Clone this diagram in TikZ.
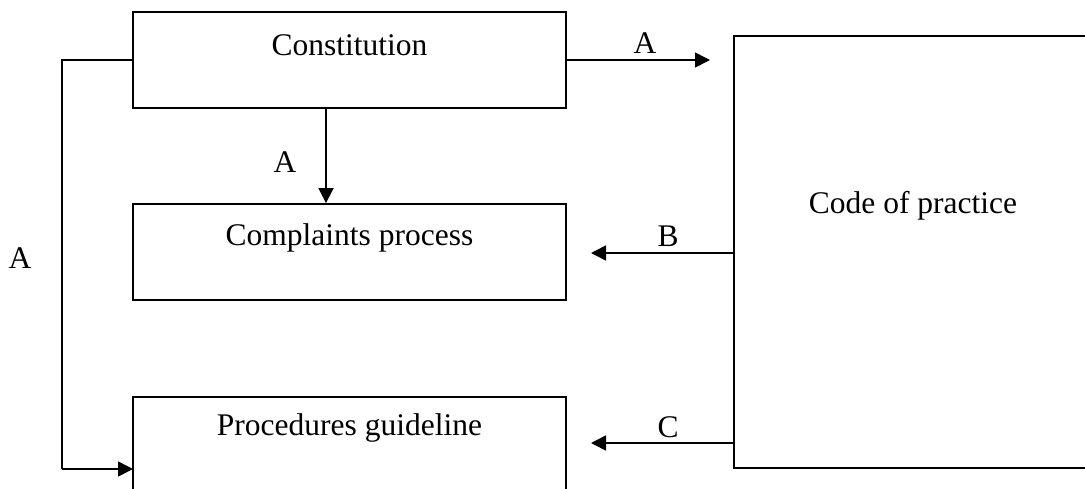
\documentclass[tikz,border=0pt]{standalone}
\usepackage{fontspec}
\setmainfont{Liberation Serif}
\usetikzlibrary{arrows.meta}
\begin{document}
\begin{tikzpicture}[x=1pt,y=-1pt,
  box/.style={draw=black,line width=1.8pt,inner sep=0pt},
  txt/.style={inner sep=0pt,font=\fontsize{31.5}{36}\selectfont},
  arr/.style={draw=black,line width=1.6pt,-{Triangle[length=15pt,width=15pt]}},
  conn/.style={draw=black,line width=1.6pt}]
\useasboundingbox (0,0) rectangle (1085,488);
\clip (0,0) rectangle (1085,488);
% boxes
\node[box,minimum width=433pt,minimum height=96pt] (con) at (349.5,60) {};
\node[box,minimum width=433pt,minimum height=96pt] (com) at (349.5,252) {};
\node[box,minimum width=433pt,minimum height=110pt] (proc) at (349.5,452) {};
\node[box,minimum width=370pt,minimum height=432pt] (code) at (919,252) {};
% texts
\node[txt] (tcon) at (349.5,45) {Constitution};
\node[txt] (tcom) at (349.5,238) {Complaints process};
\node[txt] (tproc) at (349.5,428) {Procedures guideline};
\node[txt] (tcode) at (913,206) {Code of practice};
% free ends
\coordinate (e1) at (710,60);
\coordinate (xl) at (62,0);
\coordinate (pl) at (133,469);
\coordinate (yb) at (0,253);
\coordinate (yc) at (0,443);
\coordinate (xt) at (591,0);
% connectors
\draw[arr] (con.east) -- (e1);
\draw[arr] ([xshift=-23.5pt]con.south) -- ([xshift=-23.5pt]com.north);
\draw[conn] (con.west) -- (con.west -| xl) -- (xl |- pl);
\draw[arr] (xl |- pl) -- (pl);
\draw[arr] (code.west |- yb) -- (xt |- yb);
\draw[arr] (code.west |- yc) -- (xt |- yc);
% labels
\node[txt] (la1) at (645,43) {A};
\node[txt] (la2) at (285,162) {A};
\node[txt] (la3) at (20,258) {A};
\node[txt] (lb) at (668,236) {B};
\node[txt] (lc) at (668,427) {C};
\end{tikzpicture}
\end{document}
